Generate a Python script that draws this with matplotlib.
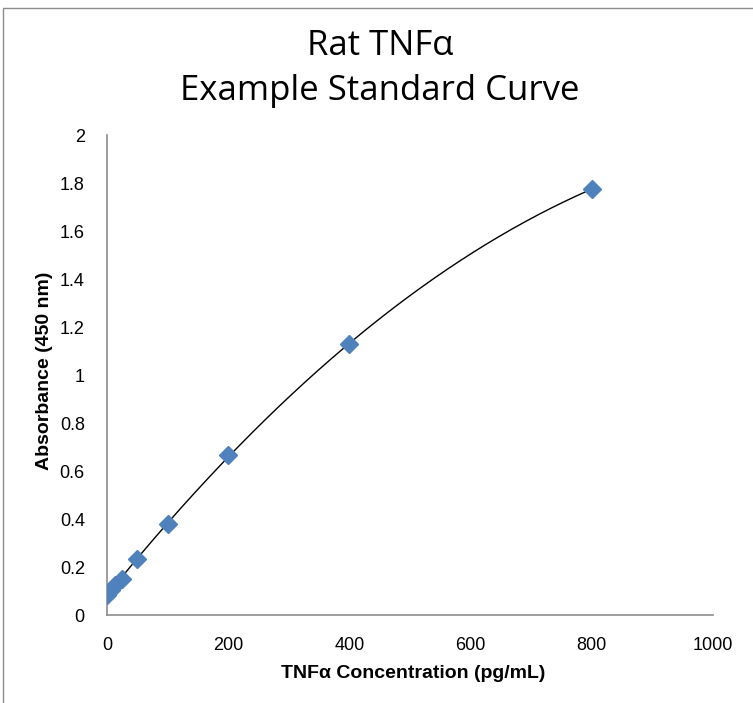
import numpy as np
import matplotlib
matplotlib.use("Agg")
import matplotlib.pyplot as plt
from matplotlib.patches import Rectangle

conc = [0, 6.25, 12.5, 25, 50, 100, 200, 400, 800]
absorbance = [0.085, 0.105, 0.125, 0.152, 0.235, 0.378, 0.665, 1.13, 1.775]
xticks = [0, 200, 400, 600, 800, 1000]
yticks = [0, 0.2, 0.4, 0.6, 0.8, 1, 1.2, 1.4, 1.6, 1.8, 2]
ytick_labels = ["0", "0.2", "0.4", "0.6", "0.8", "1", "1.2", "1.4", "1.6", "1.8", "2"]

fig = plt.figure(figsize=(7.53, 7.03), dpi=100)
fig.patches.append(Rectangle((3 / 753, -0.1), 1.2, (695 / 703) + 0.1,
                             transform=fig.transFigure, fill=False,
                             edgecolor="#8c8c8c", linewidth=1.0))

ax = fig.add_axes([107 / 753, 88 / 703, 606 / 753, 480 / 703])

# fitted standard curve (quadratic trend through the standards)
coef = np.polyfit(conc, absorbance, 2)
fx = np.linspace(min(conc), max(conc), 300)
ax.plot(fx, np.polyval(coef, fx), color="black", linewidth=1.0, zorder=2)
ax.plot(conc, absorbance, linestyle="none", marker="D", markersize=9,
        markerfacecolor="#4F81BD", markeredgecolor="#4F81BD", zorder=3)

ax.set_xlim(0, 1000)
ax.set_ylim(0, 2)
ax.set_xticks(xticks)
ax.set_xticklabels([str(v) for v in xticks])
ax.set_yticks(yticks)
ax.set_yticklabels(ytick_labels)
for s in ("top", "right"):
    ax.spines[s].set_visible(False)
for s in ("left", "bottom"):
    ax.spines[s].set_color("#8c8c8c")
    ax.spines[s].set_linewidth(1.2)
ax.tick_params(length=0, labelsize=13, colors="black")
ax.tick_params(axis="x", pad=16)
ax.tick_params(axis="y", pad=16)
for lab in ax.get_xticklabels() + ax.get_yticklabels():
    lab.set_family("Liberation Sans")

ax.set_xlabel("TNFα Concentration (pg/mL)", fontsize=14, fontweight="bold",
              family="Liberation Sans")
ax.set_ylabel("Absorbance (450 nm)", fontsize=14, fontweight="bold",
              family="Liberation Sans")
ax.xaxis.set_label_coords((413 - 107) / 606, -(674 - 615) / 480)
ax.yaxis.set_label_coords(-(107 - 44) / 606, (615 - 371) / 480)
ax.xaxis.label.set_va("center")
ax.yaxis.label.set_va("center")

fig.text(380 / 753, 1 - 46 / 703, "Rat TNFα", ha="center", va="center",
         fontsize=25, family="Open Sans")
fig.text(380 / 753, 1 - 91 / 703, "Example Standard Curve", ha="center", va="center",
         fontsize=25, family="Open Sans")

fig.savefig("out.png", dpi=100)
